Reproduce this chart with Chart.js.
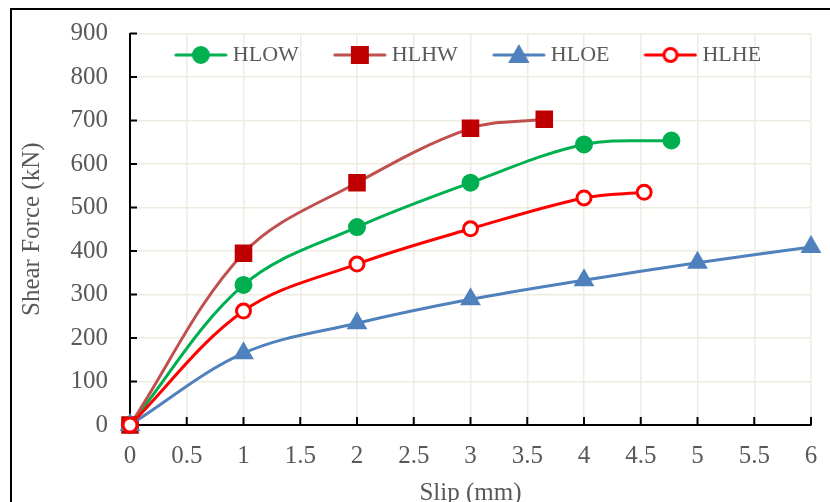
<!DOCTYPE html>
<html>
<head>
<meta charset="utf-8">
<script src="https://cdn.jsdelivr.net/npm/chart.js@4.4.0/dist/chart.umd.min.js"></script>
<style>
  html, body { margin: 0; padding: 0; background: #fff; overflow: hidden; }
  #wrap { position: relative; width: 830px; height: 502px; overflow: hidden; }
  #frame { position: absolute; left: 10px; top: 8px; width: 900px; height: 600px; border: 2px solid #000; box-sizing: border-box; }
  #chart { position: absolute; left: 0; top: 0; }
</style>
</head>
<body>
<div id="wrap">
  <div id="frame"></div>
  <canvas id="chart" width="830" height="515"></canvas>
</div>
<script>
// Valores (Slip en mm, fuerza en kN)
const seriesNames = ['HLOW', 'HLHW', 'HLOE', 'HLHE'];
const hlowSlip = [0, 1, 2, 3, 4, 4.77];
const hlowForce = [0, 322, 455, 557, 645, 654];
const hlhwSlip = [0, 1, 2, 3, 3.65];
const hlhwForce = [0, 395, 557, 682, 703];
const hloeSlip = [0, 1, 2, 3, 4, 5, 6];
const hloeForce = [0, 165, 234, 289, 333, 373, 409];
const hlheSlip = [0, 1, 2, 3, 4, 4.53];
const hlheForce = [0, 262, 370, 451, 522, 535];
const xTicks = [0, 0.5, 1, 1.5, 2, 2.5, 3, 3.5, 4, 4.5, 5, 5.5, 6];
const yTicks = [0, 100, 200, 300, 400, 500, 600, 700, 800, 900];

const toPoints = (xs, ys) => xs.map((x, i) => ({ x: x, y: ys[i] }));

// Icono de leyenda: línea con marcador al centro
function legendIcon(lineColor, fill, stroke, shape, lw) {
    const c = document.createElement('canvas');
    c.width = 54; c.height = 22;
    const g = c.getContext('2d');
    g.strokeStyle = lineColor; g.lineWidth = 3; g.lineCap = 'round';
    g.beginPath(); g.moveTo(2, 11); g.lineTo(52, 11); g.stroke();
    g.fillStyle = fill; g.strokeStyle = stroke; g.lineWidth = lw;
    g.beginPath();
    if (shape === 'circle') g.arc(27, 11, 8, 0, Math.PI * 2);
    else if (shape === 'ring') g.arc(27, 11, 6.5, 0, Math.PI * 2);
    else if (shape === 'rect') g.rect(19, 3, 16, 16);
    else { g.moveTo(27, 2); g.lineTo(36, 18); g.lineTo(18, 18); g.closePath(); }
    g.fill(); g.stroke();
    return c;
}
const legendIcons = [
    legendIcon('#00B050', '#00B050', '#00B050', 'circle', 2),
    legendIcon('#C0504D', '#C00000', '#C00000', 'rect', 2),
    legendIcon('#4F81BD', '#4F81BD', '#4F81BD', 'triangle', 2),
    legendIcon('#FF0000', '#FFFFFF', '#FF0000', 'ring', 3)
];

// Marcas de graduación hacia dentro del área
const innerTicks = {
    id: 'innerTicks',
    beforeDatasetsDraw(chart) {
        const { ctx, chartArea, scales: { x, y } } = chart;
        ctx.save();
        ctx.strokeStyle = '#000';
        ctx.lineWidth = 2;
        ctx.beginPath();
        y.ticks.forEach(t => {
            const py = y.getPixelForValue(t.value);
            ctx.moveTo(chartArea.left, py); ctx.lineTo(chartArea.left + 7, py);
        });
        x.ticks.forEach(t => {
            const px = x.getPixelForValue(t.value);
            ctx.moveTo(px, chartArea.bottom); ctx.lineTo(px, chartArea.bottom - 8);
        });
        ctx.stroke();
        ctx.restore();
    }
};

// La leyenda ocupa poco alto y se dibuja encima del área de trazado
const legendHeight = {
    id: 'legendHeight',
    beforeInit(chart) {
        const fit = chart.legend.fit;
        chart.legend.fit = function () {
            fit.call(this);
            this.height = 29.5;
        };
    },
    afterLayout(chart) {
        chart.legend.height = 80;
        chart.legend.bottom = chart.legend.top + 80;
    }
};

const noScalePadding = (scale) => {
    scale.paddingTop = 0; scale.paddingBottom = 0;
    scale.paddingLeft = 0; scale.paddingRight = 0;
};

Chart.defaults.font.family = "'Liberation Serif', serif";
Chart.defaults.font.size = 25;
Chart.defaults.color = '#595959';

const common = { borderWidth: 3, tension: 0.35, clip: false, fill: false };

const shearChart = new Chart(document.getElementById('chart'), {
    type: 'line',
    data: {
        datasets: [{
            ...common,
            label: seriesNames[0],
            data: toPoints(hlowSlip, hlowForce),
            borderColor: '#00B050',
            pointStyle: 'circle', pointRadius: 8, pointBorderWidth: 2,
            pointBackgroundColor: '#00B050', pointBorderColor: '#00B050',
            order: 4
        }, {
            ...common,
            label: seriesNames[1],
            data: toPoints(hlhwSlip, hlhwForce),
            borderColor: '#C0504D',
            pointStyle: 'rect', pointRadius: 11, pointBorderWidth: 2,
            pointBackgroundColor: '#C00000', pointBorderColor: '#C00000',
            order: 3
        }, {
            ...common,
            label: seriesNames[2],
            data: toPoints(hloeSlip, hloeForce),
            borderColor: '#4F81BD',
            pointStyle: 'triangle', pointRadius: 10, pointBorderWidth: 2,
            pointBackgroundColor: '#4F81BD', pointBorderColor: '#4F81BD',
            order: 2
        }, {
            ...common,
            label: seriesNames[3],
            data: toPoints(hlheSlip, hlheForce),
            borderColor: '#FF0000',
            pointStyle: 'circle', pointRadius: 7, pointBorderWidth: 3,
            pointBackgroundColor: '#FFFFFF', pointBorderColor: '#FF0000',
            order: 1
        }]
    },
    options: {
        responsive: false,
        animation: false,
        layout: { autoPadding: false, padding: { top: 4, left: 0, right: 19, bottom: 0 } },
        plugins: {
            tooltip: { enabled: false },
            legend: {
                position: 'top',
                fullSize: false,
                labels: {
                    usePointStyle: true,
                    pointStyleWidth: 42,
                    padding: 40,
                    color: '#595959',
                    font: { size: 22 },
                    sort: (a, b) => a.datasetIndex - b.datasetIndex,
                    generateLabels(chart) {
                        const items = Chart.defaults.plugins.legend.labels.generateLabels(chart);
                        items.forEach(it => { it.pointStyle = legendIcons[it.datasetIndex]; });
                        return items;
                    }
                }
            }
        },
        scales: {
            x: {
                type: 'linear',
                min: 0, max: 6,
                afterBuildTicks(scale) { scale.ticks = xTicks.map(v => ({ value: v })); },
                afterFit(scale) { scale.height = 90; noScalePadding(scale); },
                ticks: { padding: 16, color: '#595959', callback: v => String(v) },
                grid: { color: '#EEEBE0', lineWidth: 1.5, drawTicks: false },
                border: { color: '#000', width: 2 },
                title: { display: true, text: 'Slip (mm)', color: '#595959', padding: { top: 0, bottom: 7 } }
            },
            y: {
                min: 0, max: 900,
                afterBuildTicks(scale) { scale.ticks = yTicks.map(v => ({ value: v })); },
                afterFit(scale) { scale.width = 130; noScalePadding(scale); },
                ticks: { padding: 22, color: '#595959', callback: v => String(v) },
                grid: { color: '#EEEBE0', lineWidth: 1.5, drawTicks: false },
                border: { color: '#000', width: 2 },
                title: { display: true, text: 'Shear Force (kN)', color: '#595959', padding: { top: 17, bottom: 0 } }
            }
        }
    },
    plugins: [innerTicks, legendHeight]
});
</script>
</body>
</html>
